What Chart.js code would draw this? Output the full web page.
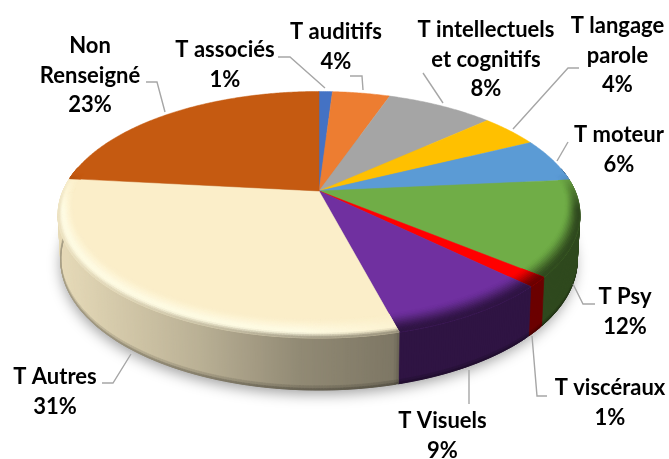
<!DOCTYPE html>
<html><head><meta charset="utf-8">
<style>html,body{margin:0;padding:0;background:#fff}#w{width:669px;height:459px;position:relative}</style>
<script src="https://cdn.jsdelivr.net/npm/chart.js@4"></script>
</head><body><div id="w"><canvas id="c" width="669" height="459"></canvas></div>
<script>
// Data
const categories = ["T associés","T auditifs","T intellectuels et cognitifs","T langage parole","T moteur","T Psy","T viscéraux","T Visuels","T Autres","Non Renseigné"];
const sliceValues = [1,4.3,8,4.4,5.8,12.5,1.3,8.6,30.8,23.3];
const percentLabels = ["1%","4%","8%","4%","6%","12%","1%","9%","31%","23%"];
// Style
const sliceColors = ["#4472c4","#ed7d31","#a5a5a5","#ffc000","#5b9bd5","#70ad47","#ff0000","#7030a0","#fbeec9","#c55a11"];
const labelLines = [["T associés"],["T auditifs"],["T intellectuels","et cognitifs"],["T langage","parole"],["T moteur"],["T Psy"],["T viscéraux"],["T Visuels"],["T Autres"],["Non","Renseigné"]];
// Layout: label centre x, first-line centre y, line height 29.5
const labelAnchors = [[225,50],[336,32],[486,30],[617.5,26],[619,135],[625,297],[610,388],[442.5,421],[55,377],[90,46]];
const leaders = [
 [[278,57],[290,57],[325,88]],
 [[350,76],[362,76],[363,90]],
 [[423,73],[443,103]],
 [[579,68],[568,68],[513,129]],
 [[568,142],[557,161]],
 [[595,304],[583,304],[573,284]],
 [[547,396],[537,396],[532,336]],
 [[469,404],[469,370]],
 [[102,383],[113,383],[131,354]],
 [[146,82],[157,82],[165,112]]
];
// Projection of the pie's circle onto the tilted disc
const K = 0.1927, SX = 256, SY = 118.7;
function project(el, t, s){
  const u = Math.cos(t)*s, v = Math.sin(t)*s, d = 1 - K*v;
  return [el.x + SX*u/d, el.y + SY*v/d];
}
function hex(c){return [parseInt(c.slice(1,3),16),parseInt(c.slice(3,5),16),parseInt(c.slice(5,7),16)];}
function rgb(a){return `rgb(${a.map(n=>Math.max(0,Math.min(255,Math.round(n)))).join(",")})`;}
function mix(a,b,w){return a.map((n,i)=>n+(b[i]-n)*w);}
const clamp=(x)=>Math.max(0,Math.min(1,x));
const litStops=[[57,.92],[130,.83],[200,.74],[300,.58],[395,.5],[400,.42],[600,.42]];
function lit(x){
  if(x<=litStops[0][0])return litStops[0][1];
  for(let i=1;i<litStops.length;i++){
    if(x<=litStops[i][0]){const a=litStops[i-1],b=litStops[i];return a[1]+(b[1]-a[1])*(x-a[0])/(b[0]-a[0]);}
  }
  return .42;
}
function wallPoint(p,t){
  const v=Math.sin(t);
  const depth=43+9*Math.max(v,0);
  return [319+(p[0]-319)*0.99,p[1]+depth];
}
function quad(ctx,a,b,c,d,col){
  ctx.fillStyle=col;ctx.strokeStyle=col;ctx.lineWidth=.7;
  ctx.beginPath();ctx.moveTo(a[0],a[1]);ctx.lineTo(b[0],b[1]);ctx.lineTo(c[0],c[1]);ctx.lineTo(d[0],d[1]);ctx.closePath();ctx.fill();ctx.stroke();
}
const STEP=Math.PI/360;
// Top face of each slice: the library's arc element, drawn through the projection
Chart.ArcElement.prototype.draw=function(ctx){
  const base=hex(this.options.backgroundColor);
  const st=this.startAngle,en=this.endAngle;
  ctx.save();
  ctx.fillStyle=this.options.backgroundColor;ctx.strokeStyle=this.options.backgroundColor;ctx.lineWidth=.5;
  ctx.beginPath();ctx.moveTo(this.x,this.y);
  for(let t=st;t<en;t+=STEP){const p=project(this,t,1);ctx.lineTo(p[0],p[1]);}
  const e=project(this,en,1);ctx.lineTo(e[0],e[1]);ctx.closePath();ctx.fill();ctx.stroke();
  // bevel
  const highlight=this.options.backgroundColor==="#fbeec9";
  const rings=12;
  for(let t=st;t<en;t+=STEP){
    const t2=Math.min(en,t+STEP),v=Math.sin(t);
    const w=clamp((v+.15)/.3);
    if(w<=0)continue;
    const inset=.045+.065*Math.max(v,0);
    for(let r=0;r<rings;r++){
      const p0=r/rings,p1=(r+1)/rings;
      const s0=1-inset*(1-p0),s1=1-inset*(1-p1);
      const a=project(this,t,s0),b=project(this,t2,s0),c=project(this,t2,s1),d=project(this,t,s1);
      let col;
      if(highlight){
        const fade=1-.7*clamp((a[0]-300)/100);
        const sn=Math.sin(Math.PI*Math.min(1,p1/.8)/2);
        let peak=sn*sn*.85*fade;
        col=mix(base,[255,254,232],peak*w);
        if(p1>.8) col=mix(col,base.map(n=>n*lit(a[0])),((p1-.8)/.2)*.75*w);
      } else {
        const fall=p1*p1*(3-2*p1);
        col=mix(base,[0,0,0],fall*.58*w);
      }
      quad(ctx,a,b,c,d,rgb(col));
    }
  }
  ctx.restore();
};
const pie3d={
  id:"pie3d",
  beforeDatasetsDraw(chart){
    const ctx=chart.ctx,els=chart.getDatasetMeta(0).data;
    ctx.save();
    // drop shadow under the whole disc
    const e0=els[0];
    ctx.shadowColor="rgba(0,0,0,.38)";ctx.shadowBlur=14;ctx.shadowOffsetY=5;ctx.shadowOffsetX=-1;
    ctx.fillStyle="#999";
    ctx.beginPath();
    for(let t=0;t<Math.PI*2;t+=.02){const q=wallPoint(project(e0,t,.995),t);t===0?ctx.moveTo(q[0],q[1]):ctx.lineTo(q[0],q[1]);}
    ctx.closePath();ctx.fill();
    ctx.shadowColor="transparent";ctx.shadowBlur=0;ctx.shadowOffsetY=0;ctx.shadowOffsetX=0;
    // side wall: strips overlap their neighbour so no seams show
    els.forEach(el=>{
      const base=hex(el.options.backgroundColor);
      for(let t=el.startAngle;t<el.endAngle;t+=STEP){
        const t2=Math.min(el.endAngle,t+2*STEP);
        if(Math.sin(t)<-.2)continue;
        const a=project(el,t,1),b=project(el,t2,1),qa=wallPoint(a,t),qb=wallPoint(b,t2);
        const bands=[[0,.93,1],[.92,.98,.88],[.97,1,.72]];
        bands.forEach(bd=>{
          const f=lit(a[0])*bd[2];
          const pa0=[a[0]+(qa[0]-a[0])*bd[0],a[1]+(qa[1]-a[1])*bd[0]];
          const pb0=[b[0]+(qb[0]-b[0])*bd[0],b[1]+(qb[1]-b[1])*bd[0]];
          const pb1=[b[0]+(qb[0]-b[0])*bd[1],b[1]+(qb[1]-b[1])*bd[1]];
          const pa1=[a[0]+(qa[0]-a[0])*bd[1],a[1]+(qa[1]-a[1])*bd[1]];
          quad(ctx,pa0,pb0,pb1,pa1,rgb(base.map(n=>n*f)));
        });
      }
    });
    ctx.restore();
  },
  afterDatasetsDraw(chart){
    const ctx=chart.ctx;
    ctx.save();
    ctx.strokeStyle="#a6a6a6";ctx.lineWidth=1.4;ctx.lineJoin="miter";
    leaders.forEach(l=>{ctx.beginPath();l.forEach((p,i)=>i?ctx.lineTo(p[0],p[1]):ctx.moveTo(p[0],p[1]));ctx.stroke();});
    ctx.font='bold 22px Lato, "Noto Sans", sans-serif';
    ctx.textAlign="center";ctx.textBaseline="middle";ctx.fillStyle="#000";
    categories.forEach((_,i)=>{
      const lines=labelLines[i].concat(percentLabels[i]),A=labelAnchors[i];
      lines.forEach((s,j)=>ctx.fillText(s,A[0],A[1]+j*29.5));
    });
    ctx.restore();
  }
};
new Chart(document.getElementById("c"),{
  type:"pie",
  data:{labels:categories,datasets:[{data:sliceValues,backgroundColor:sliceColors,borderWidth:0}]},
  options:{
    responsive:false,animation:false,
    layout:{padding:{left:0,right:31,top:0,bottom:77}},
    plugins:{legend:{display:false},tooltip:{enabled:false}}
  },
  plugins:[pie3d]
});
</script></body></html>
